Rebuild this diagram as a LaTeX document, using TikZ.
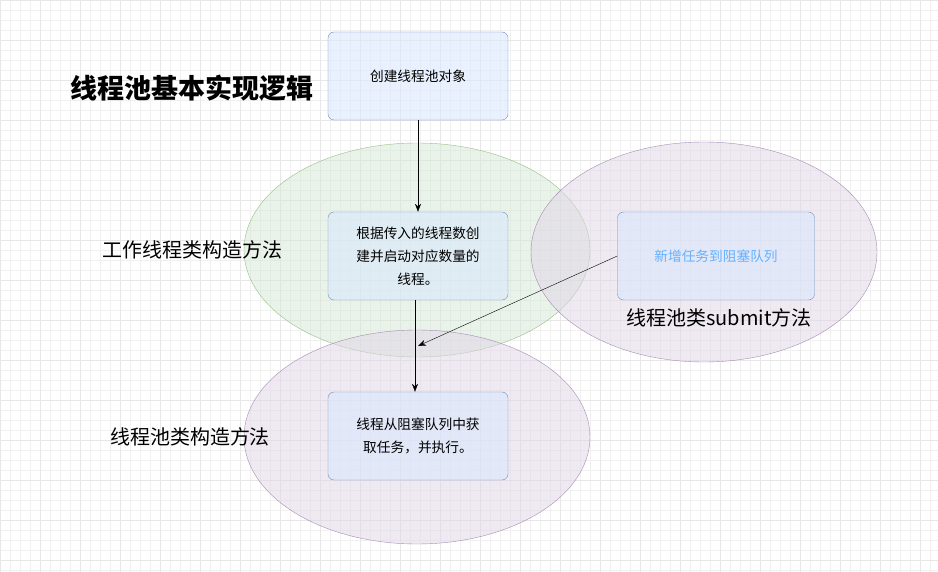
\documentclass[tikz,border=0pt]{standalone}
\usepackage{fontspec}
\setmainfont{Noto Sans CJK SC}
\usetikzlibrary{arrows.meta,shapes.geometric}
\definecolor{bfill}{HTML}{DAE8FC}
\definecolor{bdraw}{HTML}{6C8EBF}
\definecolor{gfill}{HTML}{D5E8D4}
\definecolor{gdraw}{HTML}{82B366}
\definecolor{pfill}{HTML}{E1D5E7}
\definecolor{pdraw}{HTML}{9673A6}
\definecolor{gridc}{HTML}{F0F0F0}
\definecolor{bluetext}{HTML}{66B2FF}
\tikzset{
 box/.style={draw=bdraw,fill=bfill,fill opacity=0.6,text opacity=1,rounded corners=6pt,minimum width=180pt,minimum height=88pt,align=center,inner sep=4pt,font=\fontsize{13.7}{23}\selectfont},
 ell/.style={ellipse,draw,fill opacity=0.5,draw opacity=0.8,inner sep=0pt},
 lab/.style={font=\fontsize{20}{24}\selectfont},
 arr/.style={-{Stealth[length=8pt,width=6pt]},black}
}
\begin{document}
\begin{tikzpicture}[x=1pt,y=-1pt]
\fill[white] (0,0) rectangle (938,572);
\useasboundingbox (0,0) rectangle (938,572);
\draw[gridc,step=10pt] (0,0) grid (938,572);
\draw[gridc!80!black!20!gridc,step=40pt] (0,0) grid (938,572);
\node[ell,draw=gdraw,fill=gfill,minimum width=346pt,minimum height=214pt] (eg) at (417,250) {};
\node[ell,draw=pdraw,fill=pfill,minimum width=346pt,minimum height=220pt] (er) at (704,252) {};
\node[ell,draw=pdraw,fill=pfill,minimum width=346pt,minimum height=214pt] (eb) at (417,437) {};
\node[box] (top) at (418,76) {创建线程池对象};
\node[box] (mid) at (418,256) {根据传入的线程数创\\建并启动对应数量的\\线程。};
\node[box] (bot) at (418,436) {线程从阻塞队列中获\\取任务，并执行。};
\node[box,minimum width=197pt,text=bluetext] (rt) at (716,256) {新增任务到阻塞队列};
\node[font=\bfseries\fontsize{27}{30}\selectfont] (title) at (192,88) {线程池基本实现逻辑};
\node[lab] (l1) at (192,250) {工作线程类构造方法};
\node[lab] (l2) at (190,437) {线程池类构造方法};
\node[lab] (l3) at (719,318) {线程池类submit方法};
\coordinate (j) at (418,346);
\draw[arr] (top) -- (mid);
\draw[arr] (mid.south -| 415,0) -- (bot.north -| 415,0);
\draw[arr] (rt.west) -- (j);
\end{tikzpicture}
\end{document}
